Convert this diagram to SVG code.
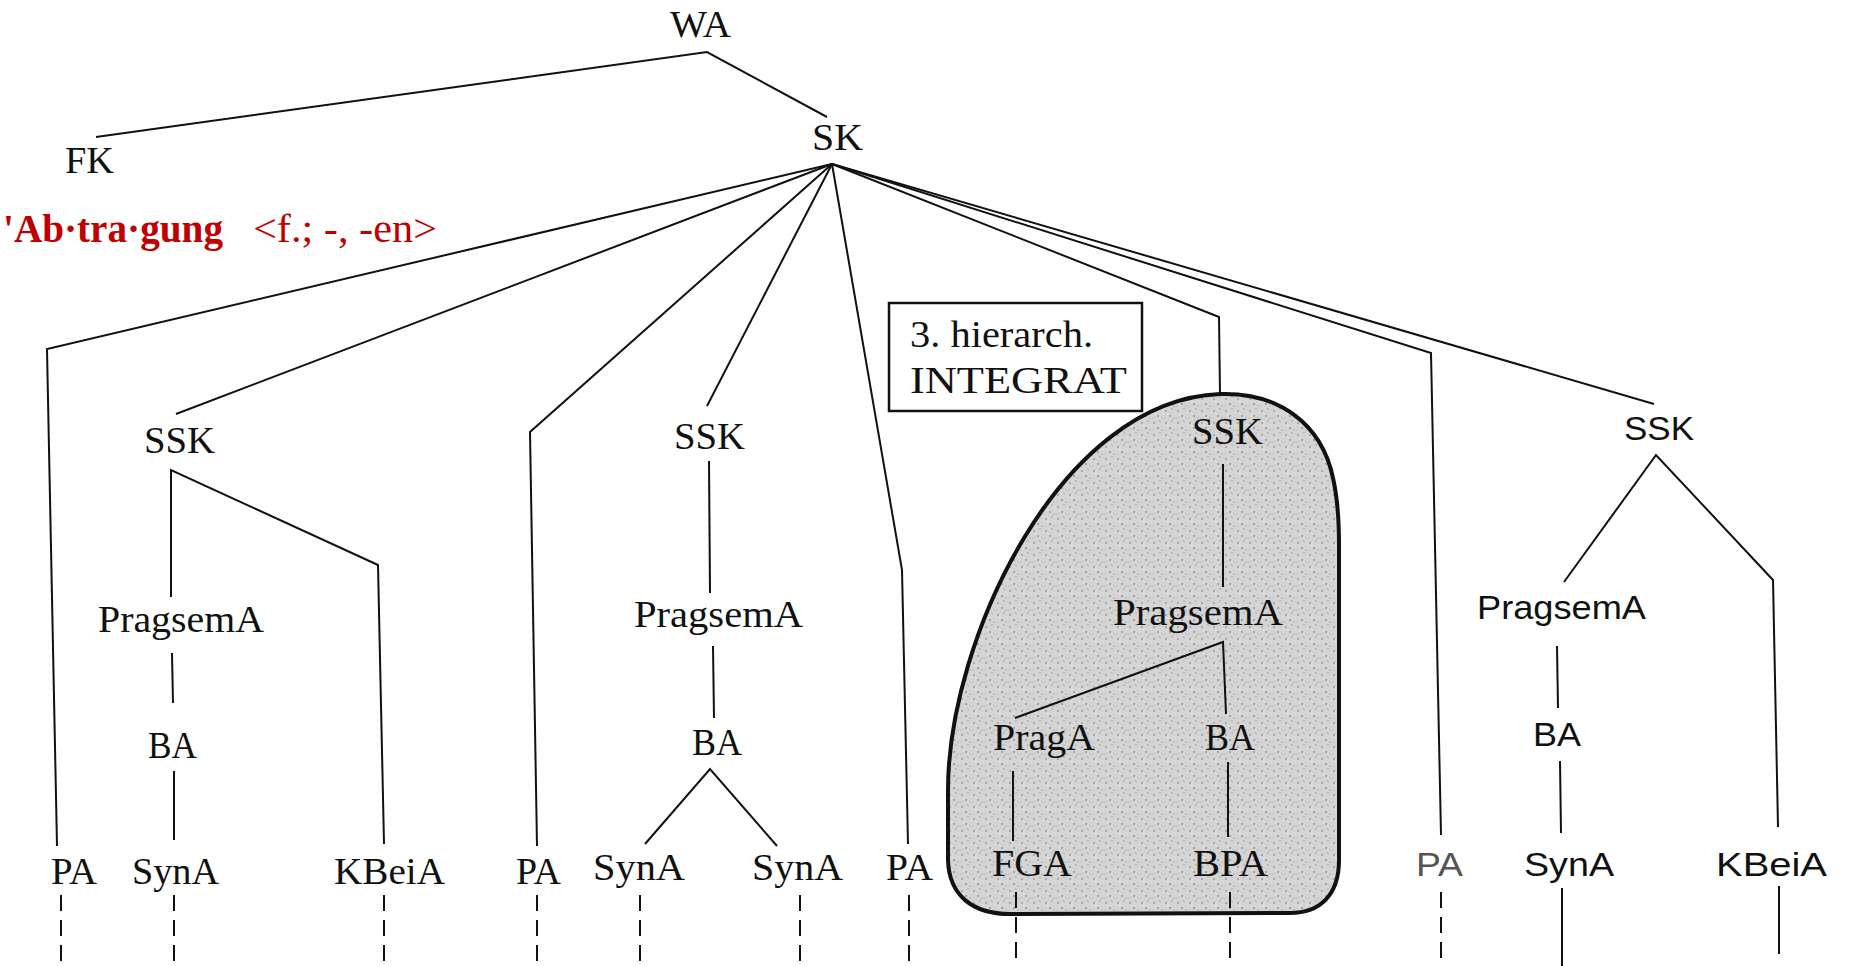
<svg xmlns="http://www.w3.org/2000/svg" width="1874" height="966" viewBox="0 0 1874 966">
<defs>
<style>
.t{font-family:"Liberation Serif","Times New Roman",serif;font-size:38px;fill:#111;}
.s{font-family:"Liberation Sans",Arial,sans-serif;font-size:33px;fill:#111;}
.red{font-family:"Liberation Serif","Times New Roman",serif;font-size:39px;fill:#c00000;}
.ln{fill:none;stroke:#111;stroke-width:2;stroke-linejoin:miter;}
.dash{fill:none;stroke:#111;stroke-width:2;stroke-dasharray:16 9;}
</style>
<pattern id="stip" width="12" height="12" patternUnits="userSpaceOnUse">
<rect width="12" height="12" fill="#d4d4d4"/>
<circle cx="2" cy="3" r="0.8" fill="#777"/>
<circle cx="8" cy="1" r="0.7" fill="#999"/>
<circle cx="6" cy="8" r="0.8" fill="#666"/>
<circle cx="10" cy="10" r="0.6" fill="#888"/>
<circle cx="1" cy="10" r="0.6" fill="#aaa"/>
<circle cx="11" cy="5" r="0.6" fill="#eee"/>
<circle cx="4" cy="6" r="0.7" fill="#f2f2f2"/>
</pattern>
</defs>
<rect width="1874" height="966" fill="#ffffff"/>

<g id="integrat-area">
<path d="M1220,394 C1280,392 1322,425 1333,478 C1338,500 1339,520 1339,545 L1339,860 C1339,895 1320,913 1290,913 L1010,914 C972,914 949,895 948,860 L948,790 C948,640 1060,400 1220,394 Z" fill="url(#stip)" stroke="#111" stroke-width="4"/>
</g>

<g id="connectors">
<path class="ln" d="M96,137 L707,52 L827,117"/>
<path class="ln" d="M832,164 L47,349 L57,846"/>
<path class="ln" d="M832,164 L176,414"/>
<path class="ln" d="M832,164 L530,432 L537,846"/>
<path class="ln" d="M832,164 L707,406"/>
<path class="ln" d="M832,164 L902,570 L908,844"/>
<path class="ln" d="M832,164 L1219,317 L1220,394"/>
<path class="ln" d="M832,164 L1431,353 L1441,835"/>
<path class="ln" d="M832,164 L1654,404"/>
<path class="ln" d="M171,597 L171,470 L378,565 L384,844"/>
<path class="ln" d="M172,653 L173,703"/>
<path class="ln" d="M174,771 L174,840"/>
<path class="ln" d="M709,461 L710,593"/>
<path class="ln" d="M713,646 L714,718"/>
<path class="ln" d="M645,844 L710,769 L777,846"/>
<path class="ln" d="M1223,464 L1223,587"/>
<path class="ln" d="M1015,718 L1223,642 L1226,714"/>
<path class="ln" d="M1013,771 L1013,841" stroke-width="3"/>
<path class="ln" d="M1228,762 L1228,837"/>
<path class="ln" d="M1564,582 L1656,455 L1773,580 L1778,827"/>
<path class="ln" d="M1557,646 L1558,708"/>
<path class="ln" d="M1560,761 L1561,833"/>
<path class="dash" d="M61,895 V966 M174,895 V966 M384,895 V966 M537,895 V966 M640,895 V966 M800,895 V966 M909,895 V966 M1016,892 V966 M1230,892 V966 M1441,892 V966"/>
<path class="ln" d="M1562,888 V966 M1779,886 V954"/>
</g>

<g id="WA"><text class="t" x="670" y="37" textLength="61" lengthAdjust="spacingAndGlyphs">WA</text></g>
<g id="FK"><text class="t" x="65" y="173" textLength="49" lengthAdjust="spacingAndGlyphs">FK</text></g>
<g id="SK"><text class="t" x="812" y="150" textLength="51" lengthAdjust="spacingAndGlyphs">SK</text></g>
<g id="lemma">
<text class="red" x="3" y="242" font-weight="bold" textLength="220" lengthAdjust="spacingAndGlyphs">'Ab·tra·gung</text>
<text class="red" x="253" y="242" textLength="184" lengthAdjust="spacingAndGlyphs">&lt;f.; -, -en&gt;</text>
</g>

<g id="PA1"><text class="t" x="51" y="884" textLength="46" lengthAdjust="spacingAndGlyphs">PA</text></g>
<g id="SSK1"><text class="t" x="144" y="453" textLength="71" lengthAdjust="spacingAndGlyphs">SSK</text></g>
<g id="PragsemA1"><text class="t" x="98" y="632" textLength="166" lengthAdjust="spacingAndGlyphs">PragsemA</text></g>
<g id="BA1"><text class="t" x="148" y="758" textLength="49" lengthAdjust="spacingAndGlyphs">BA</text></g>
<g id="SynA1"><text class="t" x="132" y="884" textLength="87" lengthAdjust="spacingAndGlyphs">SynA</text></g>
<g id="KBeiA1"><text class="t" x="334" y="884" textLength="111" lengthAdjust="spacingAndGlyphs">KBeiA</text></g>

<g id="PA2"><text class="t" x="516" y="884" textLength="45" lengthAdjust="spacingAndGlyphs">PA</text></g>
<g id="SSK2"><text class="t" x="674" y="449" textLength="71" lengthAdjust="spacingAndGlyphs">SSK</text></g>
<g id="PragsemA2"><text class="t" x="634" y="627" textLength="169" lengthAdjust="spacingAndGlyphs">PragsemA</text></g>
<g id="BA2"><text class="t" x="692" y="755" textLength="50" lengthAdjust="spacingAndGlyphs">BA</text></g>
<g id="SynA2"><text class="t" x="593" y="880" textLength="92" lengthAdjust="spacingAndGlyphs">SynA</text></g>
<g id="SynA3"><text class="t" x="752" y="880" textLength="91" lengthAdjust="spacingAndGlyphs">SynA</text></g>
<g id="PA3"><text class="t" x="886" y="880" textLength="47" lengthAdjust="spacingAndGlyphs">PA</text></g>

<g id="integrat-label">
<rect x="889" y="303" width="253" height="108" fill="#fff" stroke="#111" stroke-width="2.5"/>
<text class="t" x="910" y="347" textLength="183" lengthAdjust="spacingAndGlyphs">3. hierarch.</text>
<text class="t" x="910" y="393" textLength="217" lengthAdjust="spacingAndGlyphs">INTEGRAT</text>
</g>

<g id="SSK3"><text class="t" x="1192" y="444" textLength="71" lengthAdjust="spacingAndGlyphs">SSK</text></g>
<g id="PragsemA3"><text class="t" x="1113" y="625" textLength="170" lengthAdjust="spacingAndGlyphs">PragsemA</text></g>
<g id="PragA"><text class="t" x="993" y="750" textLength="102" lengthAdjust="spacingAndGlyphs">PragA</text></g>
<g id="BA3"><text class="t" x="1205" y="750" textLength="50" lengthAdjust="spacingAndGlyphs">BA</text></g>
<g id="FGA"><text class="t" x="992" y="876" textLength="80" lengthAdjust="spacingAndGlyphs">FGA</text></g>
<g id="BPA"><text class="t" x="1193" y="876" textLength="75" lengthAdjust="spacingAndGlyphs">BPA</text></g>

<g id="PA4"><text class="s" x="1416" y="876" textLength="47" lengthAdjust="spacingAndGlyphs" style="fill:#555">PA</text></g>
<g id="SSK4"><text class="s" x="1624" y="440" textLength="70" lengthAdjust="spacingAndGlyphs">SSK</text></g>
<g id="PragsemA4"><text class="s" x="1477" y="619" textLength="169" lengthAdjust="spacingAndGlyphs">PragsemA</text></g>
<g id="BA4"><text class="s" x="1533" y="746" textLength="48" lengthAdjust="spacingAndGlyphs">BA</text></g>
<g id="SynA4"><text class="s" x="1524" y="876" textLength="90" lengthAdjust="spacingAndGlyphs">SynA</text></g>
<g id="KBeiA4"><text class="s" x="1716" y="876" textLength="111" lengthAdjust="spacingAndGlyphs">KBeiA</text></g>
</svg>
